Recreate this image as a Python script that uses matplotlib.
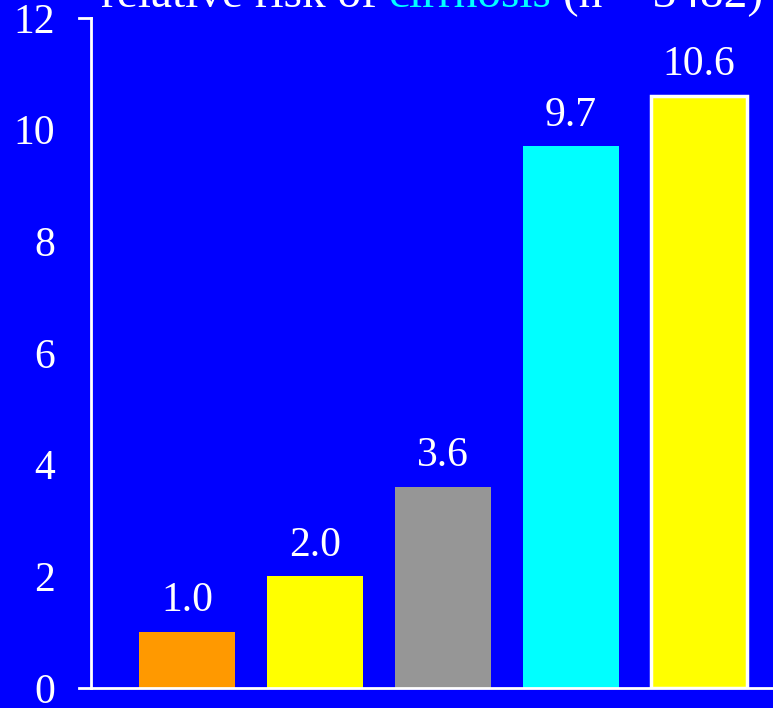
import numpy as np
import matplotlib.pyplot as plt

plt.rcParams['font.family'] = ['Liberation Serif', 'DejaVu Serif']

risk = [1.0, 2.0, 3.6, 9.7, 10.6]
labels = ['1.0', '2.0', '3.6', '9.7', '10.6']
colors = ['#ff9900', '#ffff00', '#969696', '#00ffff', '#ffff00']
edges = ['none', 'none', 'none', 'none', 'white']
yticks = [0, 2, 4, 6, 8, 10, 12]

bg = '#0000ff'
fig = plt.figure(figsize=(7.73, 7.08), dpi=100, facecolor=bg)
ax = fig.add_axes([91 / 773, 20 / 708, 1 - 91 / 773, 670 / 708])
ax.set_facecolor(bg)

x = np.arange(len(risk))
bars = ax.bar(x, risk, width=0.75, color=colors, edgecolor=edges, linewidth=2.5,
              zorder=2)
for b, lab in zip(bars, labels):
    ax.annotate(lab, (b.get_x() + b.get_width() / 2, b.get_height()),
                xytext=(0, 15), textcoords='offset points', ha='center',
                va='baseline', color='white', fontsize=30)

ax.set_xlim(-0.75, 4.58)
ax.set_ylim(0, 12)
ax.set_xticks([])
ax.set_yticks(yticks)
ax.set_yticklabels([str(t) for t in yticks], fontsize=30, color='white')
ax.tick_params(axis='y', length=0, pad=26)
# only the end ticks are drawn on the value axis
for t in (0, 12):
    ax.plot([-12 / 682, 0], [t, t], transform=ax.get_yaxis_transform(),
            color='white', lw=2, clip_on=False, zorder=3)

for side in ('top', 'right'):
    ax.spines[side].set_visible(False)
for side in ('left', 'bottom'):
    ax.spines[side].set_color('white')
    ax.spines[side].set_linewidth(2)
    ax.spines[side].set_zorder(3)

# title in three coloured pieces, centred over the axes
parts = [('relative risk of ', 'white'), ('cirrhosis', '#00ffff'),
         (' (n = 3482)', 'white')]
fig.canvas.draw()
r = fig.canvas.get_renderer()
texts = [fig.text(0, 1 - 7 / 708, s, color=c, fontsize=34, va='baseline')
         for s, c in parts]
widths = [t.get_window_extent(r).width for t in texts]
xpos = (91 + 773) / 2 - sum(widths) / 2
for t, w in zip(texts, widths):
    t.set_x(xpos / 773)
    xpos += w

fig.savefig('out.png', dpi=100, facecolor=bg)
